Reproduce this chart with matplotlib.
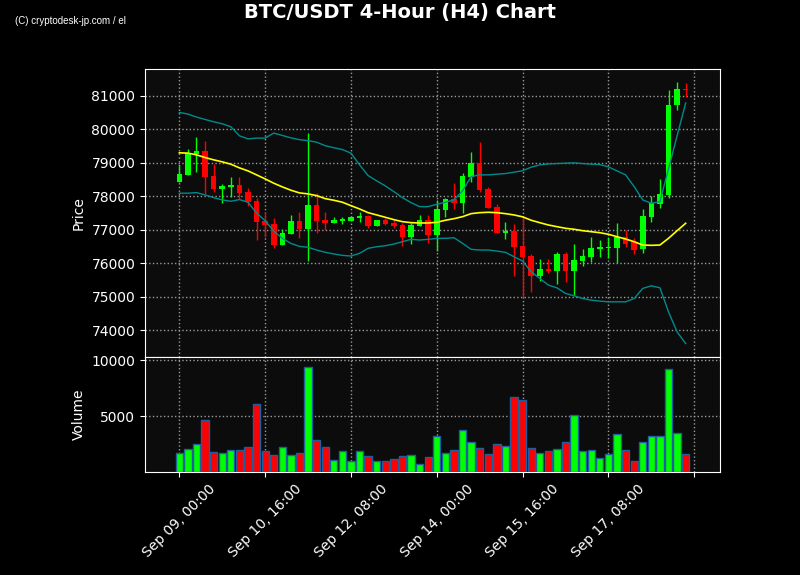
import matplotlib
matplotlib.use("Agg")
import matplotlib.pyplot as plt
import numpy as np
import pandas as pd

# ---- data ----
start = "2025-09-09 00:00"
opens = [78436, 78636, 79272, 79352, 78615, 78227, 78278, 78337, 78128, 77860,
         77263, 77173, 76546, 76884, 77263, 77024, 77740, 77293, 77212, 77272,
         77263, 77343, 77412, 77113, 77293, 77203, 77143, 76794, 77122, 77293,
         76855, 77600, 77919, 77791, 78585, 79003, 78218, 77690, 76913, 76964,
         76517, 76218, 75630, 75830, 75779, 76278, 75779, 76078, 76197, 76436,
         76466, 76466, 76776, 76627, 76418, 77391, 77770, 78039, 80704, 81203]
highs = [78934, 79403, 79761, 79660, 78955, 78358, 78567, 78567, 78239, 77958,
         77540, 77343, 77015, 77442, 77522, 79881, 78090, 77522, 77373, 77391,
         77400, 77522, 77442, 77300, 77361, 77300, 77210, 77200, 77430, 77450,
         77880, 77960, 78388, 78705, 79331, 79612, 78269, 77770, 77233, 77164,
         77412, 76269, 76119, 76119, 76328, 76328, 76567, 76418, 76776, 76696,
         76794, 77194, 76994, 76746, 77612, 78009, 78507, 81173, 81403, 81373]
lows = [78430, 78620, 78716, 78069, 78137, 77791, 77970, 77910, 77710, 76696,
        76794, 76466, 76540, 76880, 76746, 76069, 76896, 76994, 77200, 77164,
        77255, 77242, 77063, 77110, 77143, 77050, 76505, 76567, 77115, 76620,
        76370, 77373, 77612, 77510, 78418, 78137, 77650, 76896, 76716, 75621,
        75003, 75152, 75472, 75702, 75373, 75433, 75054, 75920, 76048, 76197,
        76167, 76000, 76478, 76269, 76299, 77224, 77660, 77958, 80555, 80955]
closes = [78666, 79302, 79352, 78585, 78218, 78307, 78346, 78108, 77839, 77242,
          77143, 76546, 76896, 77263, 77024, 77740, 77272, 77212, 77302, 77313,
          77382, 77421, 77113, 77293, 77173, 77113, 76794, 77143, 77293, 76855,
          77621, 77919, 77791, 78606, 79003, 78188, 77660, 76913, 76973, 76496,
          76197, 75630, 75830, 75779, 76278, 75779, 76099, 76218, 76457, 76496,
          76496, 76776, 76576, 76397, 77412, 77809, 78069, 80725, 81203, 81173]
volumes = [1684, 2030, 2553, 4677, 1768, 1684, 1946, 1946, 2210, 6045,
           1858, 1508, 2210, 1508, 1684, 9360, 2903, 2210, 1070, 1858,
           960, 1858, 1425, 960, 960, 1163, 1425, 1508, 727, 1338,
           3253, 1684, 1946, 3778, 2731, 2120, 1597, 2553, 2295, 6745,
           6483, 2120, 1684, 1858, 2030, 2644, 5087, 1858, 1946, 1248,
           1597, 3429, 1946, 986, 2644, 3253, 3253, 9188, 3516, 1597]
sma_mid = [79293, 79284, 79233, 79152, 79084, 79024, 78955, 78845, 78755, 78636,
           78516, 78388, 78278, 78179, 78099, 78069, 78018, 77928, 77880, 77821,
           77719, 77621, 77510, 77442, 77373, 77302, 77242, 77212, 77203, 77203,
           77224, 77284, 77331, 77391, 77481, 77510, 77522, 77510, 77481, 77442,
           77386, 77284, 77212, 77143, 77093, 77045, 77015, 76973, 76943, 76913,
           76866, 76794, 76725, 76645, 76546, 76537, 76546, 76746, 76973, 77194]
bb_upper = [80496, 80448, 80358, 80287, 80218, 80158, 80070, 79800, 79710, 79731,
            79731, 79881, 79810, 79740, 79685, 79655, 79610, 79505, 79445, 79390,
            79284, 78934, 78615, 78457, 78307, 78137, 77958, 77809, 77690, 77690,
            77761, 77821, 77890, 78159, 78585, 78636, 78636, 78657, 78675, 78716,
            78760, 78866, 78934, 78964, 78973, 78985, 78994, 78973, 78955, 78943,
            78875, 78755, 78636, 78287, 77890, 77791, 77839, 78815, 79800, 80776]
bb_lower = [78090, 78090, 78108, 78039, 77958, 77890, 77850, 77900, 77821, 77500,
            77270, 76960, 76746, 76595, 76506, 76480, 76397, 76330, 76280, 76238,
            76218, 76299, 76448, 76496, 76526, 76576, 76645, 76716, 76696, 76716,
            76746, 76746, 76764, 76597, 76418, 76397, 76397, 76367, 76328, 76197,
            76070, 75749, 75552, 75352, 75272, 75105, 75033, 74955, 74904, 74875,
            74854, 74854, 74854, 74955, 75254, 75331, 75272, 74555, 73958, 73612]

UP = "#00ff00"
DOWN = "#ff0000"
FACE = "#0c0c0c"

dates = pd.date_range(start, periods=len(opens), freq="4h")
x = np.arange(len(opens))
o = np.array(opens); h = np.array(highs); l = np.array(lows); c = np.array(closes)
colors = [UP if cc >= oo else DOWN for oo, cc in zip(o, c)]

fig = plt.figure(figsize=(8, 5.75), dpi=100, facecolor="black")
ax1 = fig.add_axes([0.18125, 0.3791, 0.71875, 0.5009])
ax2 = fig.add_axes([0.18125, 0.1791, 0.71875, 0.2], sharex=ax1)

for ax in (ax1, ax2):
    ax.set_facecolor(FACE)
    for s in ax.spines.values():
        s.set_color("white")
    ax.tick_params(colors="white", labelsize=10)
    ax.grid(True, linestyle=":", color="#9a9a9a", linewidth=1)
    ax.set_axisbelow(True)

# candles
ax1.vlines(x, l, h, colors=colors, linewidth=1, zorder=2)
body_h = np.maximum(np.abs(c - o), 25)
ax1.bar(x, body_h, bottom=np.minimum(o, c), width=0.65, color=colors,
        linewidth=0, zorder=3)
ax1.plot(x, bb_upper, color="#008b8b", linewidth=1, zorder=4)
ax1.plot(x, bb_lower, color="#008b8b", linewidth=1, zorder=4)
ax1.plot(x, sma_mid, color="#ffff00", linewidth=1.2, zorder=4)
ax1.set_ylim(73210, 81790)
ax1.set_yticks(np.arange(74000, 81001, 1000))
ax1.set_ylabel("Price", color="white", fontsize=10)
plt.setp(ax1.get_xticklabels(), visible=False)

# volume
ax2.bar(x, volumes, width=0.85, color=colors, edgecolor="#1f5fa0",
        linewidth=1, zorder=3)
ax2.set_ylim(0, max(volumes) * 1.1)
ax2.set_yticks([5000, 10000])
ax2.set_ylabel("Volume", color="white", fontsize=10)

tick_pos = np.arange(0, len(opens) + 1, 10)
tick_lab = [dates[i].strftime("%b %d, %H:%M") if i < len(dates) else "" for i in tick_pos]
ax2.set_xticks(tick_pos)
ax2.set_xticklabels(tick_lab, rotation=45)
ax2.set_xlim(-4, 63)

fig.text(0.5, 0.995, "BTC/USDT 4-Hour (H4) Chart", ha="center", va="top",
         color="white", fontsize=14, fontweight="bold")
fig.text(15 / 800, 1 - 21 / 575, "(C) cryptodesk-jp.com / el", ha="left",
         va="center", color="white", fontsize=7, family="Liberation Sans")

fig.savefig("out.png", dpi=100, facecolor="black")
